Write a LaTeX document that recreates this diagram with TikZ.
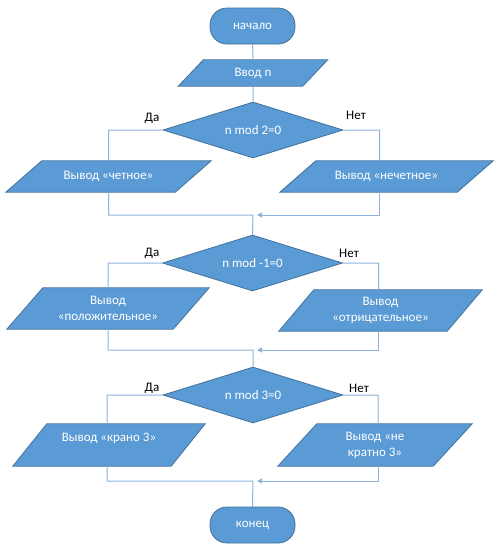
\documentclass[tikz,border=0pt]{standalone}
\usepackage{fontspec}
\setmainfont{Carlito}
\usepackage{tikz}
\usetikzlibrary{arrows.meta,shapes.geometric,backgrounds}
\definecolor{boxblue}{HTML}{5B9BD5}
\definecolor{boxedge}{HTML}{41719C}
\definecolor{lineblue}{HTML}{8CB3DF}

\begin{document}
\begin{tikzpicture}[x=1pt, y=-1pt, font=\fontsize{13}{16}\selectfont,
    term/.style={rectangle, rounded corners=17pt, fill=boxblue, draw=boxedge, line width=0.8pt, text=white, minimum width=85pt, minimum height=36pt},
    io/.style={rectangle, inner sep=0pt, text=white, align=center},
    iobox/.style={fill=boxblue, draw=boxedge, line width=0.8pt},
    cond/.style={diamond, aspect=3.2, inner sep=0pt, minimum width=180pt, minimum height=56pt, fill=boxblue, draw=boxedge, line width=0.8pt, text=white},
    lbl/.style={inner sep=0pt, text=black},
    flow/.style={draw=lineblue, line width=1pt},
    mergeline/.style={flow, -{Triangle[length=5pt, width=5pt]}, shorten >=4pt}]
    \useasboundingbox (0,0) rectangle (500,547);

    \node[term] (start) at (252.5, 26) {начало};
    \node[io, minimum width=149pt, minimum height=26pt] (input) at (253, 73) {Ввод n};

    \node[cond] (d1) at (253, 130) {n mod 2=0};
    \node[io, minimum width=205pt, minimum height=31pt] (even) at (108.5, 176.5) {Вывод «четное»};
    \node[io, minimum width=213pt, minimum height=31pt] (odd) at (386.5, 176.5) {Вывод «нечетное»};
    \coordinate (m1) at (253, 215);

    \node[cond] (d2) at (252.5, 263) {n mod -1=0};
    \node[io, minimum width=202pt, minimum height=41pt] (pos) at (108, 308.5) {Вывод\\«положительное»};
    \node[io, minimum width=203pt, minimum height=41pt] (neg) at (380.5, 310.5) {Вывод\\«отрицательное»};
    \coordinate (m2) at (253, 350);

    \node[cond] (d3) at (253, 395) {n mod 3=0};
    \node[io, minimum width=192pt, minimum height=42pt] (div) at (109, 445) {Вывод «крано 3»\\\mbox{}};
    \node[io, minimum width=194pt, minimum height=42pt] (ndiv) at (375, 445) {Вывод «не\\кратно 3»};
    \coordinate (m3) at (253, 481);

    \node[term] (stop) at (252.5, 525) {конец};

    \node[lbl] (yes1) at (152, 118) {Да};
    \node[lbl] (no1) at (356, 115) {Нет};
    \node[lbl] (yes2) at (152, 253) {Да};
    \node[lbl] (no2) at (349, 253) {Нет};
    \node[lbl] (yes3) at (152, 388) {Да};
    \node[lbl] (no3) at (359, 388) {Нет};

    % parallelograms behind the output texts
    \begin{scope}[on background layer]
        \foreach \n/\s in {input/25, even/36, odd/36, pos/36, neg/35, div/34, ndiv/39}
            \path[iobox] ([xshift=\s pt]\n.north west) -- (\n.north east)
                -- ([xshift=-\s pt]\n.south east) -- (\n.south west) -- cycle;
    \end{scope}

    \draw[flow] (start) -- (input)
          (input) -- (d1)
          (d1.west) -| (even.north)
          (d1.east) -| ([xshift=-7pt]odd.north)
          (even.south) |- (m1) -- (d2.north)
          (d2.west) -| (pos.north)
          (d2.east) -| ([xshift=-2pt]neg.north)
          (pos.south) |- (m2) -- (d3.north)
          (d3.west) -| ([xshift=-2pt]div.north)
          (d3.east) -| ([xshift=3pt]ndiv.north)
          ([xshift=-2pt]div.south) |- (m3) -- (stop.north)
          ;
    \draw[mergeline] ([xshift=-7pt]odd.south) |- (m1);
    \draw[mergeline] ([xshift=-2pt]neg.south) |- (m2);
    \draw[mergeline] ([xshift=3pt]ndiv.south) |- (m3);
\end{tikzpicture}
\end{document}
